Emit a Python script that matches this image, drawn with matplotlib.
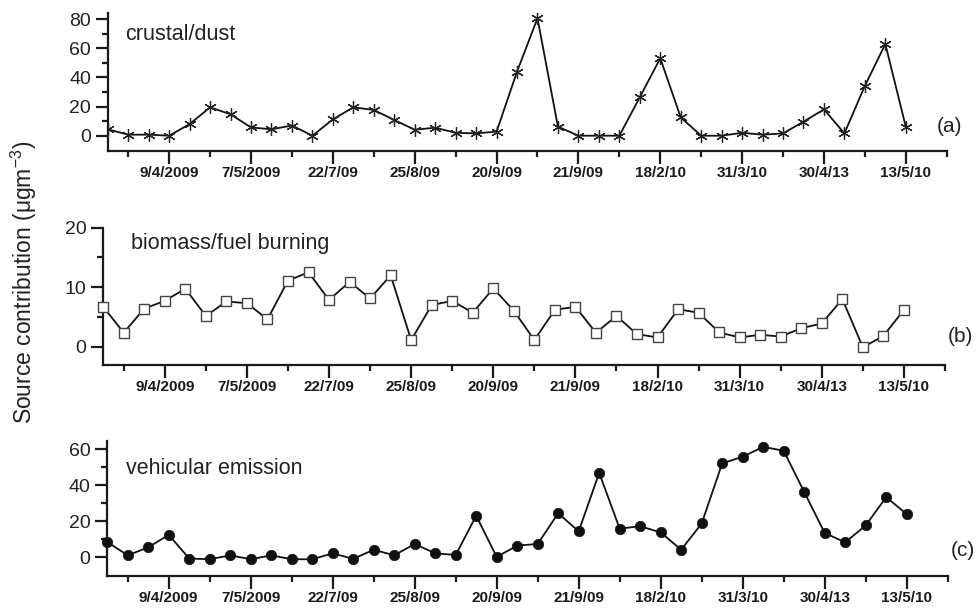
import numpy as np
import matplotlib
matplotlib.use("Agg")
import matplotlib.pyplot as plt
from matplotlib.ticker import FixedLocator, NullFormatter

plt.rcParams['font.family'] = ['Liberation Sans', 'DejaVu Sans']
plt.rcParams['mathtext.fontset'] = 'custom'
plt.rcParams['mathtext.rm'] = 'Liberation Sans'
plt.rcParams['mathtext.it'] = 'Liberation Sans'

# ---- data ----
tick_labels = ["9/4/2009", "7/5/2009", "22/7/09", "25/8/09", "20/9/09",
               "21/9/09", "18/2/10", "31/3/10", "30/4/13", "13/5/10"]

crustal = [4.4, 0.7, 0.7, 0.0, 8.0, 19.5, 14.7, 5.7, 4.4, 7.0,
           0.0, 11.2, 19.5, 17.7, 10.8, 4.1, 5.5, 2.0, 1.6, 2.8,
           44.0, 80.7, 6.2, 0.0, 0.0, 0.0, 26.4, 53.2, 12.6, 0.0,
           0.0, 2.0, 0.7, 1.6, 9.6, 18.1, 1.6, 34.2, 63.0, 6.2]

biomass = [6.7, 2.35, 6.4, 7.7, 9.75, 5.15, 7.6, 7.3, 4.6, 11.1,
           12.5, 7.85, 10.9, 8.1, 12.0, 1.1, 7.0, 7.7, 5.7, 9.8,
           6.05, 1.1, 6.2, 6.7, 2.35, 5.15, 2.1, 1.55, 6.3, 5.7,
           2.4, 1.55, 2.0, 1.7, 3.1, 3.9, 8.0, -0.1, 1.8, 6.2]

vehicular = [8.5, 1.1, 5.5, 12.5, -0.7, -1.1, 1.1, -1.1, 1.1, -1.1,
             -1.1, 2.2, -0.9, 4.2, 1.1, 7.4, 2.2, 1.3, 23.1, 0.2,
             6.5, 7.4, 24.5, 14.4, 46.9, 15.9, 17.3, 13.8, 4.2, 18.8,
             52.2, 55.9, 61.4, 59.2, 36.3, 13.5, 8.3, 17.7, 33.4, 24.0]

panel_names = ["crustal/dust", "biomass/fuel burning", "vehicular emission"]
panel_tags = ["(a)", "(b)", "(c)"]

W, H = 977, 615
fig = plt.figure(figsize=(W / 100, H / 100), dpi=100)

def px_axes(l, r, t, b):
    return fig.add_axes([l / W, 1 - b / H, (r - l) / W, (b - t) / H])

x = np.arange(len(crustal))
major_x = np.arange(3, 40, 4)
minor_x = np.arange(1, 42, 4)

ax_a = px_axes(107.8, 946.7, 12.7, 150.7)
ax_b = px_axes(103.2, 945.0, 227.7, 365.0)
ax_c = px_axes(107.2, 947.7, 440.7, 576.0)

specs = [
    (ax_a, crustal, dict(marker=(6, 2, 0), markersize=9, markeredgewidth=0.9,
                         markeredgecolor='#222222', markerfacecolor='#222222'),
     (-10.3, 84.5), [0, 20, 40, 60, 80], [10, 30, 50, 70], True),
    (ax_b, biomass, dict(marker='s', markersize=7.5, markeredgewidth=1.0,
                         markeredgecolor='#444444', markerfacecolor='white'),
     (-3.08, 20), [0, 10, 20], [5, 15], False),
    (ax_c, vehicular, dict(marker='o', markersize=7.5, markeredgewidth=0.5,
                           markeredgecolor='#111111', markerfacecolor='#111111'),
     (-10.4, 64.8), [0, 20, 40, 60], [10, 30, 50], False),
]

for ax, vals, mk, ylim, ymaj, ymin, clip in specs:
    ax.plot(x, vals, color='#111111', linewidth=1.3, clip_on=clip, zorder=3, **mk)
    ax.set_xlim(0, 41)
    ax.set_ylim(*ylim)
    for s in ['top', 'right']:
        ax.spines[s].set_visible(False)
    for s in ['left', 'bottom']:
        ax.spines[s].set_linewidth(1.6)
        ax.spines[s].set_color('#1a1a1a')
    ax.xaxis.set_major_locator(FixedLocator(major_x))
    ax.xaxis.set_minor_locator(FixedLocator(minor_x))
    ax.set_xticklabels(tick_labels, fontsize=11, fontweight='bold', color='#1a1a1a')
    ax.yaxis.set_major_locator(FixedLocator(ymaj))
    ax.yaxis.set_minor_locator(FixedLocator(ymin))
    ax.yaxis.set_minor_formatter(NullFormatter())
    ax.tick_params(axis='both', which='major', direction='out', length=9, width=1.6,
                   color='#1a1a1a')
    ax.tick_params(axis='both', which='minor', direction='out', length=4.5, width=1.6,
                   color='#1a1a1a')
    ax.tick_params(axis='x', which='major', pad=2)
    ax.tick_params(axis='y', which='major', labelsize=14, pad=3, labelcolor='#222222')
    ax.set_facecolor('none')

# panel names
fig.text(125 / W, 1 - 35 / H, panel_names[0], fontsize=15.5, color='#222222',
         ha='left', va='center')
fig.text(131 / W, 1 - 244 / H, panel_names[1], fontsize=15.5, color='#222222',
         ha='left', va='center')
fig.text(126 / W, 1 - 469 / H, panel_names[2], fontsize=15.5, color='#222222',
         ha='left', va='center')

# panel tags
fig.text(949 / W, 1 - 126 / H, panel_tags[0], fontsize=15, color='#222222',
         ha='center', va='center')
fig.text(960 / W, 1 - 336 / H, panel_tags[1], fontsize=15, color='#222222',
         ha='center', va='center')
fig.text(963 / W, 1 - 551 / H, panel_tags[2], fontsize=15, color='#222222',
         ha='center', va='center')

# y label
fig.text(24 / W, 1 - 282 / H, r'Source contribution (μgm$^{-3}$)', fontsize=16.5,
         color='#222222', rotation=90, ha='center', va='center')

fig.savefig('out.png', dpi=100, facecolor='white')
